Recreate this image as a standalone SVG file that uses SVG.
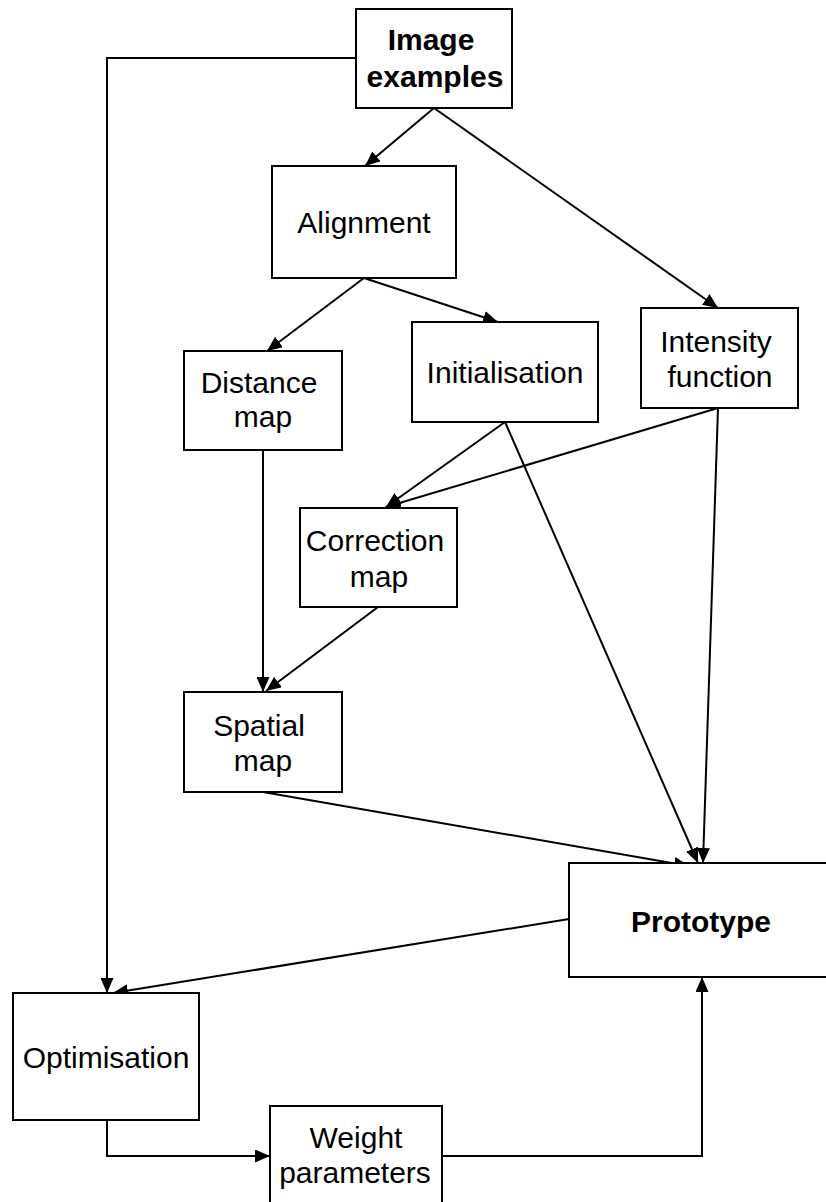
<svg xmlns="http://www.w3.org/2000/svg" width="826" height="1202" viewBox="0 0 826 1202">
<style>
.box{fill:#fff;stroke:#000;stroke-width:2}
.t{font-family:"Liberation Sans",Arial,sans-serif;font-size:30px;fill:#000;text-anchor:middle}
.b{font-weight:bold}
.c{fill:none;stroke:#000;stroke-width:2}
</style>
<defs>
<marker id="ah" markerUnits="userSpaceOnUse" markerWidth="16" markerHeight="13" refX="15" refY="6.5" orient="auto">
<path d="M0,0 L15,6.5 L0,13 z" fill="#000"/>
</marker>
</defs>
<rect width="826" height="1202" fill="#fff"/>
<g id="connectors">
<polyline class="c" points="356,58 107,58 107,993" marker-end="url(#ah)"/>
<line class="c" x1="434" y1="108" x2="365" y2="166" marker-end="url(#ah)"/>
<line class="c" x1="434" y1="108" x2="718" y2="308" marker-end="url(#ah)"/>
<line class="c" x1="364" y1="278" x2="267" y2="351" marker-end="url(#ah)"/>
<line class="c" x1="364" y1="278" x2="498" y2="322" marker-end="url(#ah)"/>
<line class="c" x1="263" y1="450" x2="263" y2="692" marker-end="url(#ah)"/>
<line class="c" x1="505" y1="422" x2="386" y2="507" marker-end="url(#ah)"/>
<line class="c" x1="718" y1="408" x2="386" y2="507" marker-end="url(#ah)"/>
<line class="c" x1="378" y1="607" x2="266" y2="691" marker-end="url(#ah)"/>
<line class="c" x1="505" y1="422" x2="698" y2="863" marker-end="url(#ah)"/>
<line class="c" x1="718" y1="408" x2="703" y2="863" marker-end="url(#ah)"/>
<line class="c" x1="263" y1="792" x2="689" y2="866" marker-end="url(#ah)"/>
<line class="c" x1="569" y1="919" x2="113" y2="993" marker-end="url(#ah)"/>
<polyline class="c" points="107,1120 107,1156 270,1156" marker-end="url(#ah)"/>
<polyline class="c" points="442,1156 702,1156 702,977" marker-end="url(#ah)"/>
</g>
<g id="image-examples">
<rect class="box" x="356" y="9" width="156" height="99"/>
<text class="t b" x="431" y="50">Image</text>
<text class="t b" x="435" y="87">examples</text>
</g>
<g id="alignment">
<rect class="box" x="272" y="166" width="184" height="112"/>
<text class="t" x="364" y="233">Alignment</text>
</g>
<g id="distance-map">
<rect class="box" x="184" y="351" width="158" height="99"/>
<text class="t" x="259" y="393">Distance</text>
<text class="t" x="263" y="427">map</text>
</g>
<g id="initialisation">
<rect class="box" x="412" y="322" width="186" height="100"/>
<text class="t" x="505" y="383">Initialisation</text>
</g>
<g id="intensity-function">
<rect class="box" x="641" y="308" width="157" height="100"/>
<text class="t" x="716" y="352">Intensity</text>
<text class="t" x="720" y="387">function</text>
</g>
<g id="correction-map">
<rect class="box" x="300" y="508" width="157" height="99"/>
<text class="t" x="375" y="551">Correction</text>
<text class="t" x="379" y="587">map</text>
</g>
<g id="spatial-map">
<rect class="box" x="184" y="692" width="158" height="100"/>
<text class="t" x="259" y="736">Spatial</text>
<text class="t" x="263" y="771">map</text>
</g>
<g id="prototype">
<rect class="box" x="569" y="863" width="270" height="114"/>
<text class="t b" x="701" y="932">Prototype</text>
</g>
<g id="optimisation">
<rect class="box" x="13" y="993" width="186" height="127"/>
<text class="t" x="106" y="1068">Optimisation</text>
</g>
<g id="weight-parameters">
<rect class="box" x="270" y="1106" width="172" height="110"/>
<text class="t" x="356" y="1148">Weight</text>
<text class="t" x="355" y="1183">parameters</text>
</g>
</svg>
